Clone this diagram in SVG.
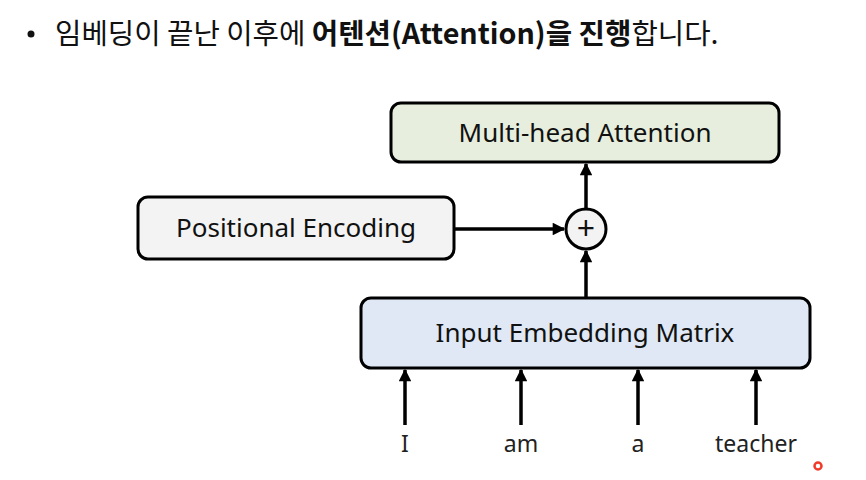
<svg xmlns="http://www.w3.org/2000/svg" width="866" height="480" viewBox="0 0 866 480">
<defs>
<marker id="ah" viewBox="0 0 10 10" refX="9" refY="5" markerWidth="4" markerHeight="3.6" orient="auto" markerUnits="strokeWidth">
<path d="M0,0 L10,5 L0,10 z" fill="#000"/>
</marker>
<style>
.box{stroke:#000;stroke-width:3}
.lbl{font-family:"Noto Sans","Noto Sans CJK KR",sans-serif;font-size:26px;fill:#111;text-anchor:middle}
.word{font-family:"Noto Sans","Noto Sans CJK KR",sans-serif;font-size:23px;fill:#222;text-anchor:middle}
.conn{stroke:#000;stroke-width:3.5;fill:none;marker-end:url(#ah)}
.title{font-family:"Noto Sans CJK KR","Noto Sans",sans-serif;font-size:28.7px;fill:#111}
</style>
</defs>
<rect width="866" height="480" fill="#fff"/>
<g id="title">
<circle cx="31" cy="34" r="3.5" fill="#111"/>
<text class="title" x="55" y="44">임베딩이 끝난 이후에 <tspan font-weight="bold">어텐션(Attention)을 진행</tspan>합니다.</text>
</g>
<g id="mha">
<rect class="box" x="391" y="103" width="388" height="59" rx="10" fill="#e7eedd"/>
<text class="lbl" x="585" y="142">Multi-head Attention</text>
</g>
<g id="pe">
<rect class="box" x="138" y="197" width="316" height="62" rx="10" fill="#f3f3f3"/>
<text class="lbl" x="296" y="237">Positional Encoding</text>
</g>
<g id="plus">
<circle cx="586" cy="229" r="20" fill="#f3f3f3" stroke="#000" stroke-width="3"/>
<text class="lbl" x="586" y="240" style="font-size:32px">+</text>
</g>
<g id="iem">
<rect class="box" x="361" y="298" width="449" height="70" rx="10" fill="#dfe8f4"/>
<text class="lbl" x="585" y="342">Input Embedding Matrix</text>
</g>
<g id="words">
<text class="word" x="405" y="452">I</text>
<text class="word" x="521" y="452">am</text>
<text class="word" x="638" y="452">a</text>
<text class="word" x="756" y="452">teacher</text>
</g>
<g id="connectors">
<line class="conn" x1="586" y1="209" x2="586" y2="164"/>
<line class="conn" x1="586" y1="298" x2="586" y2="251"/>
<line class="conn" x1="455" y1="229" x2="564" y2="229"/>
<line class="conn" x1="405" y1="425" x2="405" y2="370"/>
<line class="conn" x1="521" y1="425" x2="521" y2="370"/>
<line class="conn" x1="638" y1="425" x2="638" y2="370"/>
<line class="conn" x1="756" y1="425" x2="756" y2="370"/>
</g>
<circle cx="818" cy="466" r="3.5" fill="none" stroke="#f03a2a" stroke-width="2.5"/>
</svg>
